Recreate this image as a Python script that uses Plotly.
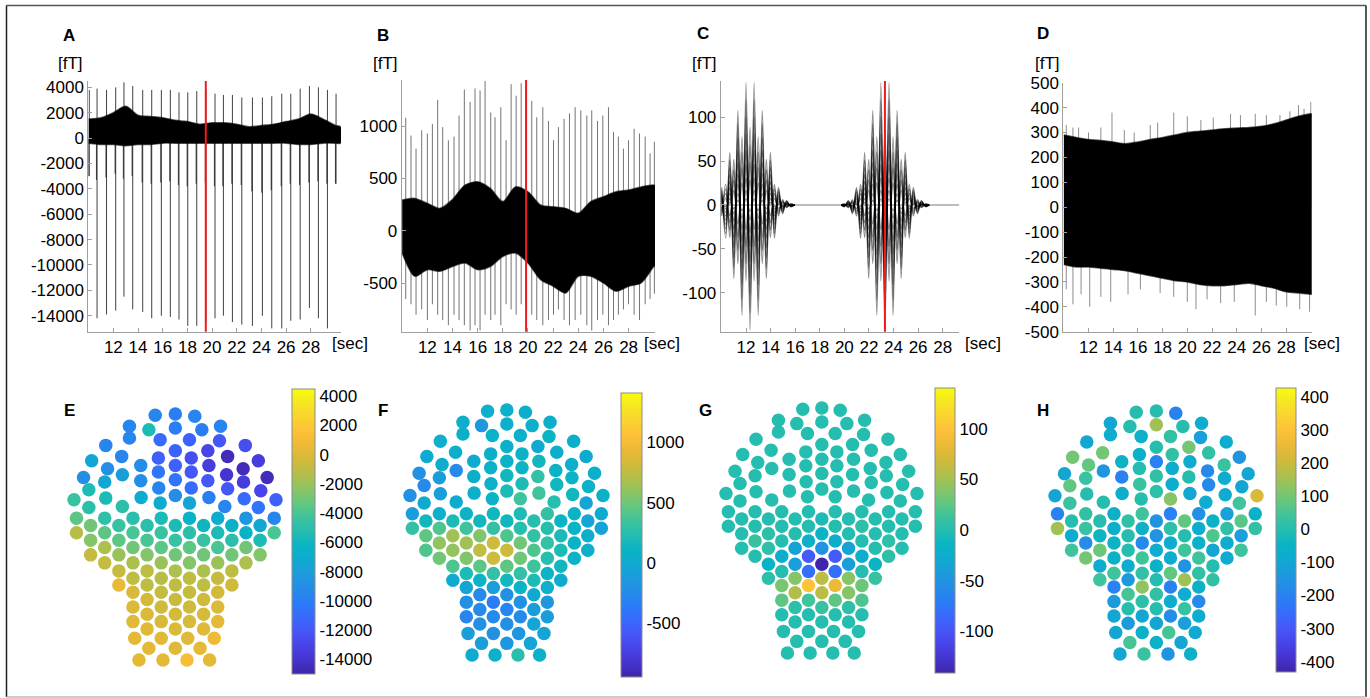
import plotly.graph_objects as go

W, H = 1370, 698

# ---------------- time-series data ----------------
# Panel A
a_beat_t = [10.05, 10.68, 11.45, 12.19, 12.86, 13.57, 14.38, 15.11, 15.89, 16.62, 17.32, 18.03, 18.76, 19.50,
            20.24, 20.92, 21.65, 22.41, 23.27, 24.08, 24.84, 25.65, 26.38, 27.14, 27.89, 28.62, 29.35, 30.05]
a_beat_top = [3800, 3900, 3800, 4000, 4400, 4100, 3800, 3800, 3800, 3800, 3600, 3600, 3700, 3800,
              3500, 3400, 3400, 3200, 3200, 3200, 3300, 3500, 3500, 3900, 4100, 4000, 3800, 3500]
a_beat_bottom = [-3000, -14200, -13900, -13600, -12500, -13500, -13700, -14200, -14000, -14100, -14300, -14800, -14800, -14500,
                 -14200, -14000, -14500, -14700, -14800, -14000, -15000, -15000, -14400, -14300, -13400, -14200, -15000, -3600]
a_beat_short = [-3000, -3300, -3100, -2800, -3200, -3000, -3500, -3600, -3500, -3400, -3700, -3800, -3600, -3500,
                -3800, -3800, -3600, -3700, -4200, -4300, -4100, -3800, -3600, -3700, -3500, -3400, -3600, -3600]
a_env_t = [10, 11, 12, 13, 14, 15, 16, 17, 18, 19, 20, 21, 22, 23, 24, 25, 26, 27, 28, 29, 30, 30.4]
a_env_hi = [1500, 1600, 2000, 2500, 1800, 1700, 1600, 1400, 1300, 1100, 1200, 1200, 1100, 900, 1000, 1100, 1300, 1500, 1900, 1500, 1000, 900]
a_env_lo = [-400, -500, -500, -600, -500, -500, -400, -400, -400, -400, -400, -400, -400, -400, -400, -400, -400, -500, -500, -400, -400, -400]

# Panel B
b_spike_t = [10.28, 10.70, 11.10, 11.55, 12.00, 12.40, 12.82, 13.22, 13.67, 14.12, 14.52, 14.94, 15.40, 15.79, 16.19, 16.59,
             17.04, 17.38, 17.84, 18.26, 18.66, 19.06, 19.46, 19.85, 20.30, 20.70, 21.18, 21.63, 22.03, 22.42, 22.87, 23.30,
             23.75, 24.20, 24.68, 25.07, 25.53, 25.95, 26.40, 26.80, 27.19, 27.59, 27.99, 28.44, 28.87, 29.32, 29.71, 30.05]
b_spike_top = [1080, 910, 785, 960, 930, 1020, 1250, 990, 865, 900, 1100, 1350, 1230, 1360, 1340, 1430,
               1130, 1085, 1180, 865, 1400, 1290, 1410, 1420, 1240, 1085, 1180, 1050, 865, 990, 1070, 1120,
               1180, 1150, 1100, 1150, 1050, 1100, 1180, 945, 900, 785, 865, 975, 930, 900, 740, 850]
b_spike_bottom = [-650, -700, -800, -750, -850, -700, -800, -850, -900, -800, -850, -900, -950, -900, -950, -800,
                  -850, -800, -900, -700, -750, -800, -700, -750, -800, -850, -900, -850, -800, -750, -850, -900,
                  -850, -800, -900, -950, -850, -800, -900, -850, -800, -750, -700, -800, -850, -700, -650, -600]
b_env_t = [10, 11, 12, 13, 14, 15, 16, 17, 18, 19, 20, 21, 22, 23, 24, 25, 26, 27, 28, 29, 30, 30.1]
b_env_hi = [295, 310, 263, 215, 300, 437, 468, 405, 280, 420, 373, 247, 230, 215, 168, 280, 326, 373, 390, 420, 437, 430]
b_env_lo = [-212, -433, -370, -386, -340, -307, -370, -340, -244, -212, -307, -465, -528, -592, -433, -433, -497, -576, -528, -497, -340, -330]

# Panel C (peak values of the strongest channel, two bursts)
c_burst1_t = [10.02, 10.35, 10.68, 11.01, 11.34, 11.67, 12.00, 12.33, 12.66, 12.99, 13.32, 13.65, 13.98, 14.31, 14.64, 14.97, 15.30, 15.63, 15.95]
c_burst1_v = [20, -38, 60, -84, 108, -126, 140, -143, 140, -126, 108, -84, 60, -38, 20, -10, 5, -2, 0]
c_burst2_t = [19.75, 20.00, 20.33, 20.66, 20.99, 21.32, 21.65, 21.98, 22.31, 22.64, 22.97, 23.30, 23.63, 23.96, 24.29, 24.62,
              24.95, 25.28, 25.61, 25.94, 26.27, 26.60, 26.90]
c_burst2_v = [0, -2, 5, -10, 20, -38, 60, -84, 108, -126, 140, -143, 140, -126, 108, -84, 60, -38, 20, -10, 5, -2, 0]
# relative gain (and polarity) of the displayed channels
c_channel_scale = [1.0, 0.86, 0.72, 0.58, 0.45, 0.33, 0.22, 0.12, 0.05, -0.62, -0.48, -0.34, -0.2]

# Panel D
d_env_t = [10, 11, 12, 13, 14, 15, 16, 17, 18, 19, 20, 21, 22, 23, 24, 25, 26, 27, 28, 29, 30, 30.07]
d_env_hi = [290, 280, 272, 268, 262, 255, 262, 272, 280, 290, 300, 305, 310, 315, 318, 320, 325, 335, 350, 365, 375, 375]
d_env_lo = [-230, -240, -240, -245, -250, -255, -265, -275, -285, -295, -300, -310, -315, -315, -310, -305, -315, -325, -340, -345, -350, -350]
d_top_t = [10.2, 10.74, 11.2, 12.0, 13.0, 13.9, 14.9, 15.7, 17.0, 17.6, 18.9, 20.0, 21.1, 22.1, 23.5, 24.3, 25.5, 26.4, 27.5, 28.3, 29.0, 29.45, 30.0]
d_top_v = [330, 320, 320, 300, 320, 380, 310, 300, 330, 340, 380, 365, 350, 360, 375, 370, 375, 370, 370, 385, 410, 395, 423]
d_bot_t = [10.2, 10.74, 11.4, 12.1, 13.0, 13.8, 15.2, 16.2, 17.8, 18.9, 20.0, 20.7, 21.6, 22.7, 23.8, 25.5, 26.4, 27.2, 28.05, 29.1, 29.9]
d_bot_v = [-330, -390, -350, -400, -360, -380, -350, -330, -345, -360, -380, -410, -370, -385, -380, -435, -380, -395, -400, -410, -420]

red_marker_t = {"A": 19.49, "B": 19.85, "C": 23.30}

x_ticks = [12, 14, 16, 18, 20, 22, 24, 26, 28]
y_ticks = {
    "A": [4000, 2000, 0, -2000, -4000, -6000, -8000, -10000, -12000, -14000],
    "B": [1000, 500, 0, -500],
    "C": [100, 50, 0, -50, -100],
    "D": [500, 400, 300, 200, 100, 0, -100, -200, -300, -400, -500],
}

# ---------------- sensor layout and topography values ----------------
sensor_x = [
    308, 365, 420,
    235, 290, 365, 440, 493,
    235, 322, 405, 490,
    168, 563,
    365, 457,
    128, 213, 317, 410, 513, 600,
    173, 267, 365, 460, 557,
    105, 215, 317, 410, 510, 625,
    165, 267, 365, 457, 558,
    120, 318, 410, 513, 607,
    78, 168, 268, 365, 460, 560, 650,
    120, 215, 322, 405, 505, 600,
    85, 165, 245, 325, 405, 485, 565, 645,
    125, 205, 285, 365, 445, 525, 605,
    85, 165, 245, 325, 405, 485, 565, 645,
    125, 205, 285, 365, 445, 525, 605,
    165, 245, 325, 405, 485, 565,
    125, 205, 285, 365, 445, 525, 605,
    165, 245, 325, 405, 485, 565,
    205, 285, 365, 445, 525,
    245, 325, 405, 485,
    205, 285, 365, 445, 525,
    245, 325, 405, 485,
    285, 365, 445,
    245, 325, 405, 485,
    285, 365, 445,
    245, 325, 405, 485,
    285, 365, 445,
    250, 325, 400, 475,
    290, 365, 435,
    262, 330, 398, 462,
]
sensor_y = [
    72, 68, 75,
    105, 115, 110, 115, 105,
    140, 145, 145, 148,
    162, 162,
    178, 178,
    208, 195, 200, 200, 195, 208,
    232, 222, 222, 222, 232,
    258, 250, 242, 242, 250, 258,
    272, 268, 265, 268, 272,
    295, 290, 290, 292, 298,
    325, 320, 318, 312, 318, 322, 325,
    348, 345, 335, 335, 345, 348,
    380, 380, 380, 380, 380, 380, 380, 380,
    402, 402, 402, 402, 402, 402, 402,
    424, 424, 424, 424, 424, 424, 424, 424,
    446, 446, 446, 446, 446, 446, 446,
    468, 468, 468, 468, 468, 468,
    490, 490, 490, 490, 490, 490, 490,
    514, 514, 514, 514, 514, 514,
    538, 538, 538, 538, 538,
    560, 560, 560, 560,
    580, 580, 580, 580, 580,
    602, 602, 602, 602,
    624, 624, 624,
    646, 646, 646, 646,
    668, 668, 668,
    690, 690, 690, 690,
    712, 712, 712,
    740, 740, 740, 740,
    770, 770, 770,
    805, 805, 805, 805,
]
topo_E = [
    -9500, -10000, -9500,
    -9500, -5500, -10000, -10000, -9500,
    -9500, -11000, -11500, -12000,
    -9500, -12500,
    -11500, -13000,
    -7500, -9500, -11500, -12500, -14500, -13500,
    -9000, -9000, -11500, -13500, -14500,
    -9000, -8000, -10500, -12000, -14000, -14500,
    -7500, -9000, -10500, -12000, -13500,
    -5500, -9500, -11000, -12000, -13000,
    -4500, -5500, -7000, -9000, -10000, -11000, -11500,
    -5000, -5000, -7000, -7500, -9500, -10500,
    -3500, -4800, -5000, -5500, -6500, -7000, -8500, -9500,
    -3000, -4500, -5000, -5500, -6000, -6500, -7500,
    -1200, -3500, -4000, -4500, -5000, -5500, -6500, -4000,
    -2500, -3500, -4000, -4500, -4500, -5000, -5500,
    -1500, -3000, -3500, -3500, -4000, -3000,
    -800, -2000, -2500, -3000, -3000, -3000, -2500,
    -800, -1500, -2000, -2500, -2000, -1500,
    -800, -1000, -1500, -1500, -1000,
    -1000, -1200, -1000, -800,
    500, -1000, -1000, -1000, -500,
    -200, -800, -800, -300,
    -300, -700, -500,
    0, -500, -500, 0,
    0, -300, -200,
    200, -200, -200, 300,
    200, 0, 100,
    300, 200, 200, 800,
    300, 200, 400,
    300, 300, 1200, 300,
]
topo_F = [
    50, 80, 60,
    30, -150, 50, 50, 40,
    60, 80, 50, 100,
    50, 60,
    80, 0,
    0, 40, 60, 100, 40, 0,
    20, 0, 100, 150, 50,
    -200, -250, 80, 120, 100, 60,
    -100, 60, 150, 300, 100,
    -250, 50, 200, 150, 80,
    -200, -100, 50, 200, 350, 150, 80,
    0, 0, 100, 350, 250, -50,
    -100, 50, 100, 150, 200, 300, 100, 0,
    150, 200, 150, 150, 250, 100, -50,
    300, 400, 350, 300, 250, 250, 100, -50,
    450, 650, 550, 400, 300, 200, 50,
    600, 650, 800, 500, 300, 100,
    400, 600, 750, 800, 400, 200, 50,
    500, 550, 800, 500, 250, 100,
    400, 450, 450, 350, 150,
    200, 300, 300, 100,
    0, 100, 150, 200, 0,
    -50, -100, 100, 50,
    -250, -200, 0,
    -200, -350, -200, -150,
    -250, -300, -100,
    -300, -250, -250, -100,
    -200, -200, -50,
    -100, -200, -150, -50,
    -100, -150, -50,
    0, 50, 250, 50,
]
topo_G = [
    0, 0, 0,
    0, 0, 0, 0, 0,
    0, 0, 0, 0,
    0, 0,
    0, 0,
    0, 0, 0, 0, 0, 0,
    0, 0, 0, 0, 0,
    0, 0, 0, 0, 0, 0,
    0, 0, 0, 0, 0,
    0, 0, 0, 0, 0,
    0, 0, 0, 0, 0, 0, 0,
    0, 0, 0, 0, 0, 0,
    0, 0, 0, 0, 0, 0, 0, 0,
    0, 0, 0, -5, 0, 0, 0,
    0, 0, 0, 0, 0, 5, 0, 0,
    0, 5, 0, -15, 0, 0, 0,
    10, 0, -20, -25, 0, 5,
    0, 5, -35, -50, -35, 0, 0,
    0, -25, -95, -95, -25, 5,
    -15, -40, -140, -40, -15,
    0, -80, -80, 0,
    5, 40, 60, 40, 10,
    35, 100, 85, 30,
    55, 60, 40,
    25, 15, 25, 20,
    5, 10, 5,
    0, 0, 0, 0,
    0, 0, 0,
    0, 0, 0, 0,
    0, 0, 0,
    0, 0, 0, 0,
]
topo_H = [
    0, 0, -200,
    -100, 0, 150, 0, -80,
    -80, -60, 20, -120,
    -100, -80,
    0, 100,
    100, 100, -60, 20, 20, -150,
    80, -50, -200, -80, 30,
    -100, -150, 0, -80, -180, -100,
    30, -200, 20, 0, -80,
    80, 30, -80, -180, -100,
    -100, 0, -80, 10, -100, -80, 220,
    30, 0, 0, 120, -80, 40,
    -200, 20, -60, 40, -200, -160, -120, -60,
    0, 0, 20, -150, 80, -60, 70,
    150, 30, -70, -60, 10, -80, 20, 20,
    -80, -40, 0, -150, 0, 60, -120,
    -170, -50, -180, -80, -60, -80,
    40, 90, 0, -80, 40, -100, 40,
    100, -60, 40, -80, 40, -80,
    -80, -80, -60, -150, 0,
    40, 20, 80, 20,
    40, -130, 0, 150, 20,
    -200, 130, -200, -60,
    50, 20, -80,
    -130, 10, -80, -180,
    0, 0, 30,
    -100, -100, -170, -80,
    -130, -100, -120,
    -100, -60, 50, -90,
    50, -60, -100,
    -100, 30, -150, -60,
]
topo_ticks = {
    "E": [4000, 2000, 0, -2000, -4000, -6000, -8000, -10000, -12000, -14000],
    "F": [1000, 500, 0, -500],
    "G": [100, 50, 0, -50, -100],
    "H": [400, 300, 200, 100, 0, -100, -200, -300, -400],
}
topo_limits = {"E": (-15000, 4500), "F": (-945, 1410), "G": (-141, 140), "H": (-431, 426)}

parula = [
    [0.00, "rgb(62,38,168)"], [0.05, "rgb(69,52,206)"], [0.10, "rgb(72,67,232)"], [0.15, "rgb(70,86,248)"],
    [0.20, "rgb(57,105,253)"], [0.25, "rgb(42,124,246)"], [0.30, "rgb(37,140,232)"], [0.35, "rgb(28,155,220)"],
    [0.40, "rgb(15,170,208)"], [0.45, "rgb(10,180,196)"], [0.50, "rgb(36,189,176)"], [0.55, "rgb(62,195,156)"],
    [0.60, "rgb(100,199,126)"], [0.65, "rgb(140,196,100)"], [0.70, "rgb(178,191,74)"], [0.75, "rgb(210,186,58)"],
    [0.80, "rgb(236,185,55)"], [0.85, "rgb(253,192,58)"], [0.90, "rgb(251,210,48)"], [0.95, "rgb(245,230,36)"],
    [1.00, "rgb(249,251,14)"],
]

# ---------------- figure ----------------
def fx(p):
    return p / W

def fy(p):
    return 1 - p / H

def labels(vals):
    return [str(v) for v in vals]

FONT = "Liberation Sans, Arial, sans-serif"
fig = go.Figure()
layout = dict(width=W, height=H, margin=dict(l=0, r=0, t=0, b=0, autoexpand=False), paper_bgcolor="white",
              plot_bgcolor="rgba(0,0,0,0)", showlegend=False, font=dict(family=FONT, size=17, color="black"))

top_panels = [
    ("A", (88.3, 341.0), (81.0, 331.7), (9.97, 30.45), (-15260, 4500)),
    ("B", (401.7, 655.0), (80.0, 331.7), (9.96, 30.1), (-962, 1440)),
    ("C", (720.7, 959.3), (81.0, 331.7), (9.94, 29.35), (-144.6, 141.5)),
    ("D", (1063.3, 1311.7), (82.7, 331.7), (9.96, 30.07), (-500, 500)),
]
shapes = []
annotations = []

def axis_names(n):
    return ("xaxis" if n == 1 else f"xaxis{n}", "yaxis" if n == 1 else f"yaxis{n}",
            "x" if n == 1 else f"x{n}", "y" if n == 1 else f"y{n}")

def vsegments(ts, bases, tips):
    xs, ys = [], []
    for t, b, v in zip(ts, bases, tips):
        xs += [t, t, None]
        ys += [b, v, None]
    return xs, ys

def text_at(px, py, text, xanchor="center"):
    annotations.append(dict(x=fx(px), y=fy(py), xref="paper", yref="paper", text=text, xanchor=xanchor,
                            yanchor="middle", showarrow=False, font=dict(size=17)))

for i, (name, xd, yd, xr, yr) in enumerate(top_panels):
    n = i + 1
    xa, ya, xr_ref, yr_ref = axis_names(n)
    layout[xa] = dict(domain=[fx(xd[0]), fx(xd[1])], range=list(xr), anchor=yr_ref, showline=True,
                      linecolor="#a0a0a0", linewidth=1, ticks="inside", ticklen=4, tickcolor="#a0a0a0",
                      tickvals=x_ticks, ticktext=labels(x_ticks), showgrid=False, zeroline=False,
                      tickfont=dict(size=17))
    layout[ya] = dict(domain=[fy(yd[1]), fy(yd[0])], range=list(yr), anchor=xr_ref, showline=True,
                      linecolor="#a0a0a0", linewidth=1, ticks="inside", ticklen=4, tickcolor="#a0a0a0",
                      tickvals=y_ticks[name], ticktext=labels(y_ticks[name]), showgrid=False, zeroline=False,
                      tickfont=dict(size=17))

    def band(ts, hi, lo, color="black"):
        fig.add_trace(go.Scatter(x=ts + ts[::-1], y=hi + lo[::-1], fill="toself", fillcolor=color,
                                 line=dict(color="rgba(0,0,0,0.6)", width=1.5, shape="spline", smoothing=0.8),
                                 mode="lines", xaxis=xr_ref, yaxis=yr_ref, hoverinfo="skip"))

    if name == "A":
        xs, ys = vsegments([t - 0.05 for t in a_beat_t], [0] * len(a_beat_t), a_beat_short)
        fig.add_trace(go.Scatter(x=xs, y=ys, mode="lines", line=dict(color="rgba(0,0,0,0.7)", width=1),
                                 xaxis=xr_ref, yaxis=yr_ref, hoverinfo="skip"))
        xs, ys = vsegments(a_beat_t, [0] * len(a_beat_t), a_beat_bottom)
        fig.add_trace(go.Scatter(x=xs, y=ys, mode="lines", line=dict(color="rgba(0,0,0,0.75)", width=1),
                                 xaxis=xr_ref, yaxis=yr_ref, hoverinfo="skip"))
        xs, ys = vsegments(a_beat_t, [0] * len(a_beat_t), a_beat_top)
        fig.add_trace(go.Scatter(x=xs, y=ys, mode="lines", line=dict(color="rgba(0,0,0,0.75)", width=1),
                                 xaxis=xr_ref, yaxis=yr_ref, hoverinfo="skip"))
        band(a_env_t, a_env_hi, a_env_lo)
    elif name == "B":
        xs, ys = vsegments(b_spike_t, [0] * len(b_spike_t), b_spike_top)
        fig.add_trace(go.Scatter(x=xs, y=ys, mode="lines", line=dict(color="rgba(0,0,0,0.55)", width=1),
                                 xaxis=xr_ref, yaxis=yr_ref, hoverinfo="skip"))
        xs, ys = vsegments(b_spike_t, [0] * len(b_spike_t), b_spike_bottom)
        fig.add_trace(go.Scatter(x=xs, y=ys, mode="lines", line=dict(color="rgba(0,0,0,0.55)", width=1),
                                 xaxis=xr_ref, yaxis=yr_ref, hoverinfo="skip"))
        band(b_env_t, b_env_hi, b_env_lo)
    elif name == "C":
        fig.add_trace(go.Scatter(x=[xr[0], xr[1]], y=[0, 0], mode="lines",
                                 line=dict(color="rgba(0,0,0,0.35)", width=1.5),
                                 xaxis=xr_ref, yaxis=yr_ref, hoverinfo="skip"))
        for bt, bv in ((c_burst1_t, c_burst1_v), (c_burst2_t, c_burst2_v)):
            for s in c_channel_scale:
                fig.add_trace(go.Scatter(x=bt, y=[s * v for v in bv], mode="lines",
                                         line=dict(color="rgba(0,0,0,0.45)", width=1.3, shape="spline", smoothing=1.0),
                                         xaxis=xr_ref, yaxis=yr_ref, hoverinfo="skip"))
    elif name == "D":
        xs, ys = vsegments(d_top_t, [0] * len(d_top_t), d_top_v)
        fig.add_trace(go.Scatter(x=xs, y=ys, mode="lines", line=dict(color="rgba(0,0,0,0.45)", width=1),
                                 xaxis=xr_ref, yaxis=yr_ref, hoverinfo="skip"))
        xs, ys = vsegments(d_bot_t, [0] * len(d_bot_t), d_bot_v)
        fig.add_trace(go.Scatter(x=xs, y=ys, mode="lines", line=dict(color="rgba(0,0,0,0.45)", width=1),
                                 xaxis=xr_ref, yaxis=yr_ref, hoverinfo="skip"))
        band(d_env_t, d_env_hi, d_env_lo)

    if name in red_marker_t:
        shapes.append(dict(type="line", xref=xr_ref, yref=f"{yr_ref} domain", x0=red_marker_t[name],
                           x1=red_marker_t[name], y0=0, y1=1, line=dict(color="#ee1c1c", width=2)))

# label positions (pixels)
top_labels = {"A": (69, 35), "B": (383, 35), "C": (703, 33), "D": (1043, 33)}
unit_labels = {"A": (70, 63), "B": (385, 63), "C": (704, 63), "D": (1047, 63)}
sec_labels = {"A": 330, "B": 642, "C": 963, "D": 1302}
for k, (px, py) in top_labels.items():
    text_at(px, py, f"<b>{k}</b>")
for k, (px, py) in unit_labels.items():
    text_at(px, py, "[fT]")
for k, px in sec_labels.items():
    text_at(px, 343, "[sec]", xanchor="left")

# ---------------- topographies ----------------
topo_panels = [
    ("E", topo_E, (74, 276), (414, 660), (292, 23, 389, 674), (69, 410)),
    ("F", topo_F, (410, 603), (410, 655), (621, 21, 393, 677), (383, 410)),
    ("G", topo_G, (726, 917), (408, 653), (935, 20, 388, 673), (705, 410)),
    ("H", topo_H, (1055, 1257), (411, 654), (1276, 20, 388, 672), (1043, 410)),
]
for j, (name, vals, xd, yd, cb, lab) in enumerate(topo_panels):
    n = 5 + j
    xa, ya, xr_ref, yr_ref = axis_names(n)
    ca = f"coloraxis{j + 1}" if j > 0 else "coloraxis"
    layout[xa] = dict(domain=[fx(xd[0]), fx(xd[1])], range=[78, 650], anchor=yr_ref, visible=False)
    layout[ya] = dict(domain=[fy(yd[1]), fy(yd[0])], range=[805, 68], anchor=xr_ref, visible=False)
    cbx, cbt, cby0, cby1 = cb
    cmin, cmax = topo_limits[name]
    layout[ca] = dict(colorscale=parula, cmin=cmin, cmax=cmax,
                      colorbar=dict(x=fx(cbx), xanchor="left", y=fy((cby0 + cby1) / 2), yanchor="middle",
                                    len=cby1 - cby0, lenmode="pixels", thickness=cbt, thicknessmode="pixels",
                                    outlinecolor="#8c8c8c", outlinewidth=1, tickvals=topo_ticks[name],
                                    ticktext=labels(topo_ticks[name]),
                                    ticks="", xpad=0, ypad=0, tickfont=dict(size=17, family=FONT)))
    fig.add_trace(go.Scatter(x=sensor_x, y=sensor_y, mode="markers", cliponaxis=False,
                             marker=dict(size=13.5, color=vals, coloraxis=ca, line=dict(width=0)),
                             xaxis=xr_ref, yaxis=yr_ref, hoverinfo="skip"))
    text_at(lab[0], lab[1], f"<b>{name}</b>")

# frame
shapes += [
    dict(type="line", xref="paper", yref="paper", x0=fx(6.5), x1=fx(1366), y0=fy(5.5), y1=fy(5.5),
         line=dict(color="#555555", width=1.5)),
    dict(type="line", xref="paper", yref="paper", x0=fx(6.5), x1=fx(6.5), y0=fy(5.5), y1=fy(697),
         line=dict(color="#222222", width=1.5)),
    dict(type="line", xref="paper", yref="paper", x0=fx(1366), x1=fx(1366), y0=fy(5.5), y1=fy(697),
         line=dict(color="#222222", width=1.5)),
    dict(type="line", xref="paper", yref="paper", x0=fx(6.5), x1=fx(1366), y0=fy(697), y1=fy(697),
         line=dict(color="#bbbbbb", width=1.5)),
]
layout["shapes"] = shapes
layout["annotations"] = annotations
fig.update_layout(**layout)
fig.write_html("out.html", config={"displayModeBar": False},
               post_script="document.body.style.margin='0';document.body.style.overflow='hidden';")
